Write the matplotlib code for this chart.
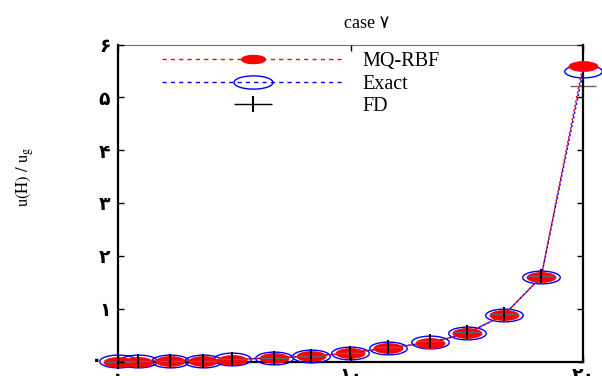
import numpy as np
import matplotlib
matplotlib.use("Agg")
import matplotlib.pyplot as plt
import matplotlib.transforms as mtransforms
from matplotlib.path import Path
from matplotlib.lines import Line2D
from matplotlib.legend_handler import HandlerTuple

# Sample positions and solution values
x_nodes = [0.0, 0.86, 2.25, 3.67, 4.9, 6.7, 8.3, 9.98, 11.6, 13.4, 15.0, 16.6, 18.2, 20.0]
mq_rbf = [0.0, 0.0, 0.01, 0.01, 0.03, 0.07, 0.10, 0.16, 0.26, 0.35, 0.53, 0.88, 1.60, 5.60]
exact = [0.01, 0.01, 0.01, 0.01, 0.04, 0.07, 0.10, 0.16, 0.26, 0.36, 0.53, 0.88, 1.60, 5.49]
fd = [0.0, 0.01, 0.01, 0.01, 0.04, 0.07, 0.11, 0.17, 0.28, 0.38, 0.55, 0.89, 1.62, 5.22]

x_ticks = [0, 10, 20]
x_tick_labels = ["۰", "۱۰", "۲۰"]
y_ticks = [0, 1, 2, 3, 4, 5, 6]
y_tick_labels = ["۰", "۱", "۲", "۳", "۴", "۵", "۶"]

title_text = "case ۷"
series_names = ["MQ-RBF", "Exact", "FD"]

serif = ["Liberation Serif", "DejaVu Sans"]
digits_font = ["DejaVu Sans"]
plt.rcParams["mathtext.fontset"] = "stix"

# flattened ellipse marker
t = np.linspace(0, 2 * np.pi, 73)
ellipse = Path(np.column_stack([np.cos(t), 0.34 * np.sin(t)]), closed=True)

fig = plt.figure(figsize=(6.02, 3.76), dpi=100)
ax = fig.add_axes([118 / 602, (376 - 361.5) / 376, (583 - 118) / 602, (361.5 - 44.5) / 376])

ax.plot(x_nodes, exact, color="blue", lw=1.1, linestyle=(1.5, (1.5, 1.5)),
        marker=ellipse, markersize=27, markerfacecolor="none",
        markeredgecolor="blue", markeredgewidth=1.0, clip_on=False, zorder=3)
ax.plot(x_nodes, mq_rbf, color="red", lw=1.1, linestyle=(0, (1.5, 1.5)),
        marker=ellipse, markersize=21, markerfacecolor="red",
        markeredgecolor="red", markeredgewidth=0.5, clip_on=False, zorder=4)
ax.plot(x_nodes, fd, linestyle="none", marker="_", markersize=19,
        markeredgecolor="0.4", markeredgewidth=1.0, clip_on=False, zorder=5)
ax.plot(x_nodes, fd, linestyle="none", marker="|", markersize=9.5,
        markeredgecolor="black", markeredgewidth=1.5, clip_on=False, zorder=5)

ax.set_xlim(0, 20)
ax.set_ylim(0, 6)
ax.set_xticks(x_ticks)
ax.set_xticklabels(x_tick_labels, fontfamily=digits_font, fontsize=13.5, fontweight="bold")
ax.set_yticks(y_ticks)
ax.set_yticklabels(y_tick_labels, fontfamily=digits_font, fontsize=13.5, fontweight="bold")
ax.tick_params(direction="in", top=True, right=True, length=4.5, width=1)
ax.tick_params(axis="y", pad=5.5)
ax.tick_params(axis="x", pad=3)
ax.yaxis.set_zorder(6)
ax.xaxis.set_zorder(6)

# nudge the y "0" label clear of the first marker
zero_lbl = ax.yaxis.get_major_ticks()[0].label1
zero_lbl.set_transform(zero_lbl.get_transform()
                       + mtransforms.ScaledTranslation(-8 / 100, 3 / 100, fig.dpi_scale_trans))

for side in ("left", "right", "bottom"):
    ax.spines[side].set_linewidth(1.6)
ax.spines["top"].set_linewidth(0.8)
ax.spines["top"].set_color("0.45")

fig.text(367 / 602, 1 - 23 / 376, title_text, ha="center", va="center",
         fontsize=13, family=serif)
fig.text(25 / 602, 1 - 177 / 376, r"$\mathrm{u(H)\ /\ u_g}$", rotation=90,
         ha="center", va="center", fontsize=12)

h_mq = Line2D([], [], color="red", lw=1, linestyle=(0, (3, 3)), marker=ellipse,
              markersize=17, markerfacecolor="red", markeredgecolor="red")
h_ex = Line2D([], [], color="blue", lw=1, linestyle=(0, (3, 3)), marker=ellipse,
              markersize=28, markerfacecolor="none", markeredgecolor="blue",
              markeredgewidth=1.0)
h_fd_h = Line2D([], [], linestyle="none", marker="_", markersize=27,
                markeredgecolor="black", markeredgewidth=1.0)
h_fd_v = Line2D([], [], linestyle="none", marker="|", markersize=11,
                markeredgecolor="black", markeredgewidth=1.5)

leg = ax.legend([h_mq, h_ex, (h_fd_h, h_fd_v)], series_names,
                handler_map={tuple: HandlerTuple(ndivide=1, pad=0)},
                loc="upper left", bbox_to_anchor=(161.7 / 602, 1 - 52 / 376),
                bbox_transform=fig.transFigure, frameon=False, borderpad=0,
                borderaxespad=0, handlelength=9.1, handletextpad=0.85,
                labelspacing=0.17, numpoints=1, prop={"family": serif, "size": 14.5})

fig.savefig("out.png", dpi=100)
